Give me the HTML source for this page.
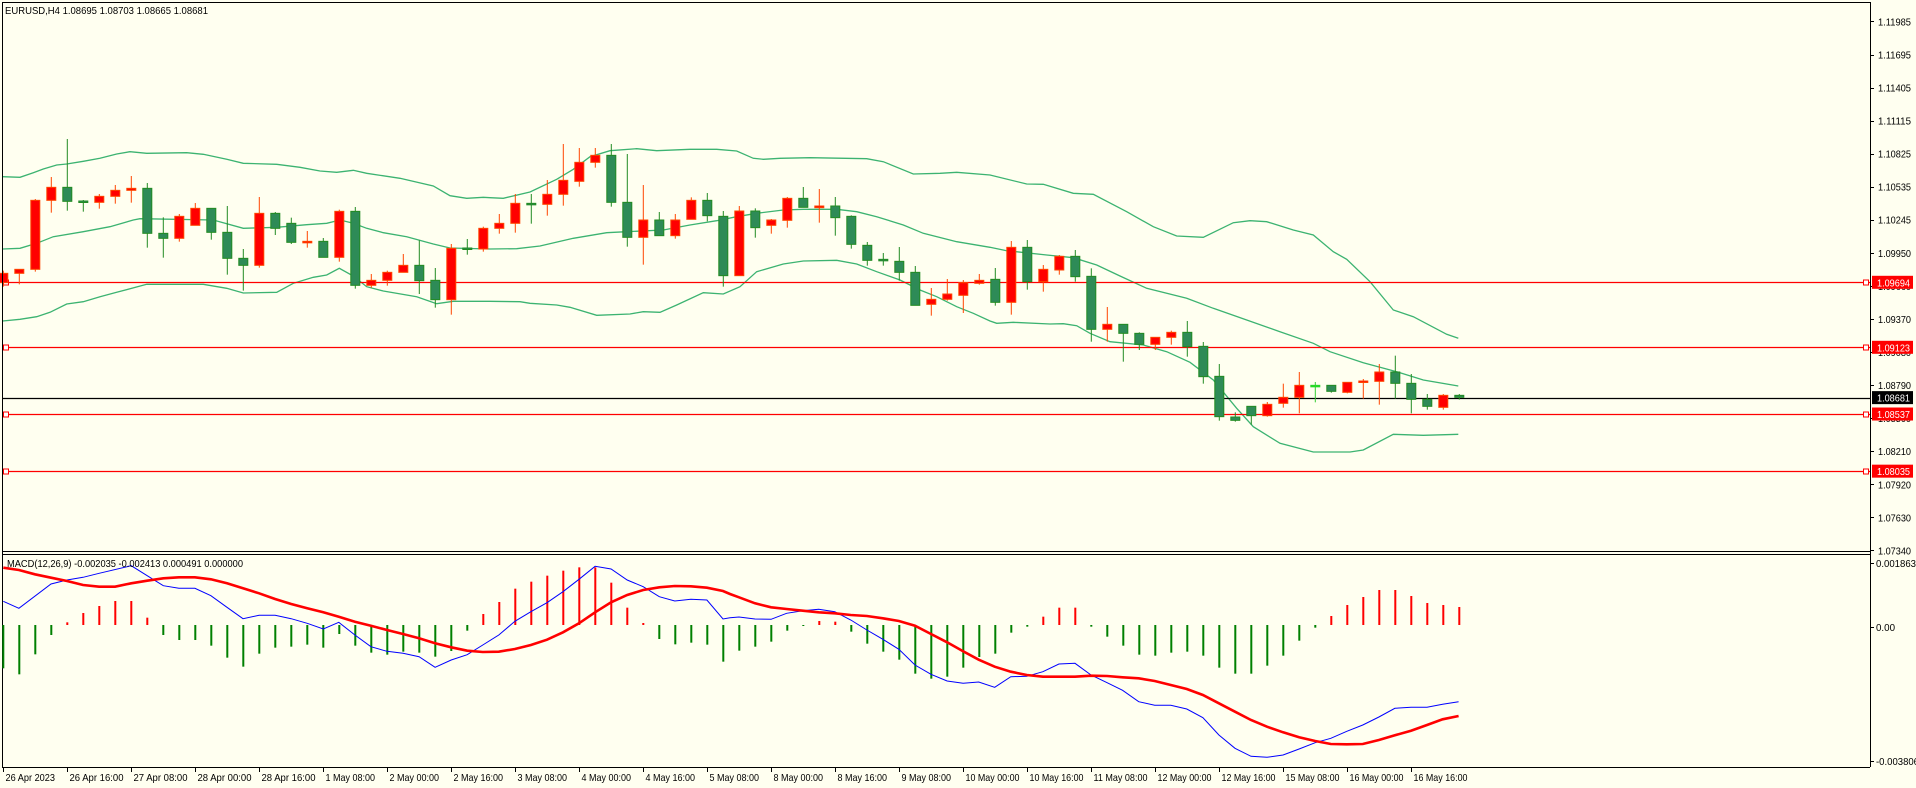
<!DOCTYPE html>
<html><head><meta charset="utf-8"><style>
html,body{margin:0;padding:0;background:#FFFFF0;}
svg{display:block;}
text{font-family:"Liberation Sans",sans-serif;font-size:10.5px;fill:#000;}
</style></head><body>
<svg id="c" width="1916" height="788" viewBox="0 0 1916 788" xmlns="http://www.w3.org/2000/svg">
<rect x="0" y="0" width="1916" height="788" fill="#FFFFF0"/>
</svg>
<script>
const S=document.getElementById('c');const NS='http://www.w3.org/2000/svg';
function el(t,a,txt){const e=document.createElementNS(NS,t);for(const k in a)e.setAttribute(k,a[k]);if(txt!==undefined)e.textContent=txt;S.appendChild(e);return e;}
const py=p=>282.3+(1.09694-p)*11384;
const cx=i=>3.3+16*i;
const z3=[[460,488,452,500,'r'],[448,460,448,493,'r'],[241,448,237,455,'r'],[202,241,171,278,'r'],[202,244,57,272,'g'],[243,247,240,275,'g'],[229,247,222,266,'r'],[211,229,195,251,'r'],[205,211,168,248,'r'],[205,340,189,383,'g'],[340,355,292,413,'g'],[289,355,282,365,'r'],[265,316,249,316,'r'],[265,337,265,359,'g'],[337,415,258,464,'g'],[415,436,387,512,'g'],[280,436,231,443,'r'],[280,325,276,345,'g'],[310,367,293,372,'g'],[364,367,333,383,'r'],[364,412,354,412,'g'],[274,412,269,425,'r'],[274,496,261,506,'g'],[481,496,462,503,'r'],[457,481,452,497,'r'],[436,457,402,457,'r'],[436,482,361,522,'g'],[481,539,444,563,'g'],[385,539,372,584,'r'],[384,388,357,404,'g'],[325,387,320,395,'r']];
const z4=[[310,325,282,341,'r'],[250,310,222,338,'r'],[250,254,222,311,'g'],[223,253,180,287,'r'],[181,223,72,257,'r'],[127,184,84,200,'r'],[106,127,84,143,'r'],[106,247,72,260,'g'],[247,352,102,380,'g'],[300,352,195,434,'r'],[300,347,276,347,'g'],[300,347,282,356,'r'],[241,298,232,298,'r'],[241,287,219,304,'g'],[289,467,273,500,'g'],[273,467,258,467,'r'],[273,323,265,353,'g'],[300,316,297,341,'r'],[235,301,231,323,'r'],[235,262,201,262,'g'],[258,263,207,308,'r'],[258,293,231,347,'g'],[289,373,286,386,'g'],[376,421,366,437,'g'],[418,421,399,437,'g'],[424,457,381,482,'g'],[457,556,438,556,'g'],[538,553,504,587,'r'],[522,538,477,542,'r'],[488,526,480,579,'r'],[481,490,462,494,'r']];
const z5=[[328,397,294,407,'g'],[232,397,213,434,'r'],[232,335,210,359,'g'],[298,335,285,365,'r'],[259,300,255,314,'r'],[259,320,240,335,'g'],[319,478,295,515,'g'],[463,478,411,515,'r'],[463,490,463,575,'g'],[490,523,487,540,'g'],[502,523,502,540,'r'],[487,502,482,524,'r'],[487,530,453,560,'g'],[529,620,516,641,'g'],[619,740,582,752,'g'],[741,751,727,755,'g'],[709,737,709,764,'g'],[703,737,696,740,'r'],[682,700,641,713,'r'],[646,682,606,730,'r'],[646,648,636,697,'l'],[646,664,646,668,'g'],[637,667,637,670,'r'],[633,637,627,686,'r'],[606,634,582,704,'r'],[606,640,557,686,'g'],[640,688,612,730,'g'],[688,709,672,719,'g'],[676,712,672,719,'r'],[676,682,672,689,'g']];
const C=[];
z3.forEach(a=>C.push(a.slice(0,4).map(v=>120+v/3).concat(a[4])));
z4.forEach(a=>C.push(a.slice(0,4).map(v=>120+v/3).concat(a[4])));
z5.forEach(a=>C.push(a.slice(0,4).map(v=>170+v/3).concat(a[4])));
function band(p3,p4,p5){const pts=[];p3.forEach(p=>pts.push([p[0]/3,120+p[1]/3]));p4.forEach(p=>pts.push([490+p[0]/3,120+p[1]/3]));p5.forEach(p=>pts.push([980+p[0]/3,170+p[1]/3]));pts.sort((a,b)=>a[0]-b[0]);return pts.map(p=>p[0].toFixed(1)+','+p[1].toFixed(1)).join(' ');}
const up=band([[8,170],[60,172],[100,158],[130,147],[170,135],[200,132],[250,124],[300,115],[350,102],[390,95],[440,100],[560,98],[610,103],[680,118],[730,130],[830,133],[900,142],[960,153],[1010,157],[1060,151],[1100,160],[1200,175],[1300,198],[1350,227],[1400,235],[1450,232]],
[[0,233],[40,235],[120,216],[200,178],[250,148],[300,110],[360,92],[440,86],[500,92],[600,88],[680,88],[740,93],[790,115],[820,118],[870,115],[960,113],[1130,116],[1180,125],[1270,162],[1350,160],[1400,157]],
[[30,15],[140,42],[190,43],[280,70],[340,73],[440,125],[520,170],[590,198],[670,202],[760,158],[810,152],[860,155],[940,180],[1000,195],[1060,245],[1100,268],[1170,335],[1240,420],[1300,440],[1400,493],[1435,505]]);
const mid=band([[8,387],[60,385],[110,370],[160,350],[250,335],[330,320],[400,300],[420,296],[640,300],[730,325],[830,322],[920,314],[980,310],[1020,300],[1060,310],[1100,325],[1150,338],[1220,350],[1300,372],[1350,384]],
[[0,387],[80,386],[150,378],[250,355],[350,338],[410,335],[520,330],[600,315],[680,302],[740,290],[800,280],[880,270],[940,268],[1040,268],[1100,275],[1160,290],[1240,315],[1300,340],[1400,365]],
[[30,232],[80,242],[200,255],[280,263],[350,285],[420,318],[500,355],[620,385],[700,415],[800,450],[900,485],[1000,520],[1050,545],[1150,578],[1250,605],[1330,630],[1435,648]]);
const lo=band([[8,603],[60,598],[110,590],[150,577],[200,552],[250,545],[300,530],[350,517],[440,493],[610,493],[680,505],[730,519],[830,517],[880,490],[940,472],[980,465],[1018,445],[1060,468],[1100,500],[1150,513],[1250,530],[1310,551],[1360,544]],
[[0,544],[90,545],[120,550],[200,555],[240,562],[320,586],[420,582],[460,575],[510,577],[560,555],[640,518],[700,522],[750,500],[800,455],[880,432],[940,423],[1040,421],[1100,432],[1160,455],[1230,480],[1290,510],[1340,530],[1400,560],[1450,580]],
[[30,453],[50,460],[100,457],[210,462],[250,461],[290,467],[330,490],[390,515],[490,525],[560,545],[630,577],[700,630],[770,715],[820,770],[900,820],[1000,846],[1110,846],[1150,840],[1240,793],[1330,796],[1435,793]]);
[up,mid,lo].forEach(p=>el('polyline',{points:p,fill:'none',stroke:'#3CB371','stroke-width':1.3}));
[1.09694,1.09123,1.08537,1.08035].forEach(h=>{const y=Math.round(py(h))+0.5;el('line',{x1:2,x2:1870,y1:y,y2:y,stroke:'#FF0000','stroke-width':1.3});
el('rect',{x:3.5,y:y-2.5,width:5,height:5,fill:'#fff',stroke:'#f00'});el('rect',{x:1863.5,y:y-2.5,width:5,height:5,fill:'#fff',stroke:'#f00'});});
{const y=Math.round(py(1.08681))+0.5;el('line',{x1:2,x2:1870,y1:y,y2:y,stroke:'#000','stroke-width':1.3});}
C.forEach((c,i)=>{const x=cx(i);let body,edge;if(c[4]=='r'){body='#FF0000';edge='#FF4500';}else if(c[4]=='g'){body='#2E8B57';edge='#228B22';}else{body='#00FF00';edge='#32CD32';}
el('line',{x1:x,x2:x,y1:c[2],y2:c[3],stroke:edge,'stroke-width':1});
const h=Math.max(c[1]-c[0],1.5);el('rect',{x:x-4.5,y:c[0],width:9,height:h,fill:body,stroke:edge,'stroke-width':1});});
el('line',{x1:2.5,y1:2,x2:2.5,y2:767,stroke:'#000','stroke-width':1});
el('line',{x1:2,y1:2.5,x2:1870,y2:2.5,stroke:'#000'});
el('line',{x1:1870.5,y1:2,x2:1870.5,y2:767,stroke:'#000'});
el('line',{x1:2,y1:551.5,x2:1870,y2:551.5,stroke:'#000'});
el('line',{x1:2,y1:554.5,x2:1870,y2:554.5,stroke:'#000'});
el('line',{x1:2,y1:767.5,x2:1870,y2:767.5,stroke:'#000'});
function T(x,y,s,len,style){const a={x:x,y:y};if(len){a.textLength=len;a.lengthAdjust='spacingAndGlyphs';}const t=el('text',a,s);if(style)t.setAttribute('style',style);return t;}
[['1.11985',1.11985],['1.11695',1.11695],['1.11405',1.11405],['1.11115',1.11115],['1.10825',1.10825],['1.10535',1.10535],['1.10245',1.10245],['1.09950',1.0995],['1.09660',1.0966],['1.09370',1.0937],['1.09080',1.0908],['1.08790',1.0879],['1.08500',1.085],['1.08210',1.0821],['1.07920',1.0792],['1.07630',1.0763],['1.07340',1.0734]].forEach(l=>{const y=py(l[1]);el('line',{x1:1870,x2:1874,y1:Math.round(y)+0.5,y2:Math.round(y)+0.5,stroke:'#000'});T(1878,y+4,l[0],33);});
[['1.09694',1.09694,'#FF0000'],['1.09123',1.09123,'#FF0000'],['1.08681',1.08681,'#000'],['1.08537',1.08537,'#FF0000'],['1.08035',1.08035,'#FF0000']].forEach(l=>{const y=py(l[1]);el('rect',{x:1872,y:y-6.5,width:41,height:13,fill:l[2]});T(1877,y+4,l[0],33,'fill:#fff');});
T(5,14,'EURUSD,H4  1.08695 1.08703 1.08665 1.08681',203);
const Z=625;
const h6=[340,358,298,240,202,174,153,138,138,188,240,255,255,272,308,335,296,278,275,269,278,237,272,293,299,290,293,305,288,227,177,141,101,80,62,47,37,37,83,158,204,252,268,263,269,320,287];
const h7=[275,260,227,213,198,200,230,266,290,314,356,371,365,338,306,296,233,215,185,158,158,215,245,272,299,302,293,290,302,338,356,356,332,302,257,218,183,150,126,105,105,123,144,150,156];
const H=h6.concat(h7);
H.forEach((v,i)=>{const y=555+v/3;const x=cx(i);el('rect',{x:x-1,y:Math.min(y,Z),width:2,height:Math.max(Math.abs(y-Z),1),fill:y<Z?'#FF0000':'#008000'});});
function ln(a6,a7){const p=[];a6.forEach(q=>p.push([q[0]/2.119,555+q[1]/3]));a7.forEach(q=>p.push([730+q[0]/2.119,555+q[1]/3]));p.sort((a,b)=>a[0]-b[0]);return p.map(q=>q[0].toFixed(1)+','+q[1].toFixed(1)).join(' ');}
const blue=ln([[7,139],[40,160],[108,87],[142,75],[176,67],[210,55],[278,32],[312,62],[346,92],[379,100],[413,100],[447,122],[481,157],[515,191],[549,181],[583,181],[617,191],[651,205],[685,222],[718,202],[752,240],[786,275],[820,289],[854,295],[888,305],[922,337],[956,315],[990,299],[1023,270],[1057,240],[1091,199],[1125,170],[1159,143],[1193,110],[1227,73],[1261,34],[1295,42],[1329,75],[1363,95],[1397,125],[1430,138],[1464,133],[1498,135],[1532,192]],
[[0,188],[19,186],[53,192],[87,193],[120,175],[154,167],[188,163],[222,170],[256,195],[290,225],[324,253],[358,283],[392,330],[426,358],[460,378],[494,385],[527,381],[561,397],[595,365],[629,364],[663,350],[697,327],[731,325],[765,360],[799,383],[832,406],[866,440],[900,451],[934,451],[968,462],[1002,488],[1036,540],[1070,580],[1104,604],[1138,607],[1172,600],[1206,582],[1240,563],[1273,550],[1307,529],[1341,510],[1375,486],[1409,460],[1443,457],[1477,457],[1510,448],[1544,440]]);
const red=ln([[7,38],[40,45],[74,58],[108,68],[142,78],[176,90],[210,95],[244,95],[278,85],[312,77],[346,70],[379,67],[413,67],[447,73],[481,85],[515,100],[549,115],[583,132],[617,147],[651,160],[685,172],[718,185],[752,200],[786,212],[820,225],[854,237],[888,250],[922,265],[956,277],[990,287],[1023,291],[1057,290],[1091,282],[1125,270],[1159,254],[1193,232],[1227,205],[1261,172],[1295,142],[1329,120],[1363,105],[1397,97],[1430,93],[1464,94],[1498,98],[1532,108]],
[[0,117],[19,127],[53,145],[87,157],[120,162],[154,167],[188,172],[222,175],[256,180],[290,183],[324,190],[358,198],[392,212],[426,237],[460,262],[494,289],[527,314],[561,335],[595,350],[629,360],[663,365],[697,365],[731,365],[765,362],[799,363],[832,367],[866,370],[900,378],[934,390],[968,402],[1002,420],[1036,445],[1070,470],[1104,495],[1138,515],[1172,532],[1206,547],[1240,558],[1273,567],[1307,568],[1341,567],[1375,555],[1409,541],[1443,527],[1477,510],[1510,493],[1544,483]]);
el('polyline',{points:blue,fill:'none',stroke:'#0000FF','stroke-width':1});
el('polyline',{points:red,fill:'none',stroke:'#FF0000','stroke-width':2.6});
T(7,567,'MACD(12,26,9) -0.002035 -0.002413 0.000491 0.000000',236);
[['0.001863',563,40],['0.00',627,19],['-0.003806',761,43]].forEach(l=>{el('line',{x1:1870,x2:1874,y1:l[1]+0.5,y2:l[1]+0.5,stroke:'#000'});T(1876,l[1]+4,l[0],l[2]);});
const D=['26 Apr 2023','26 Apr 16:00','27 Apr 08:00','28 Apr 00:00','28 Apr 16:00','1 May 08:00','2 May 00:00','2 May 16:00','3 May 08:00','4 May 00:00','4 May 16:00','5 May 08:00','8 May 00:00','8 May 16:00','9 May 08:00','10 May 00:00','10 May 16:00','11 May 08:00','12 May 00:00','12 May 16:00','15 May 08:00','16 May 00:00','16 May 16:00'];
D.forEach((d,k)=>{const x=Math.round(3.3+64*k)+0.5;el('line',{x1:x,x2:x,y1:767,y2:772,stroke:'#000'});T(x+2,781,d,d.length*4.5);});
</script>
</body></html>
